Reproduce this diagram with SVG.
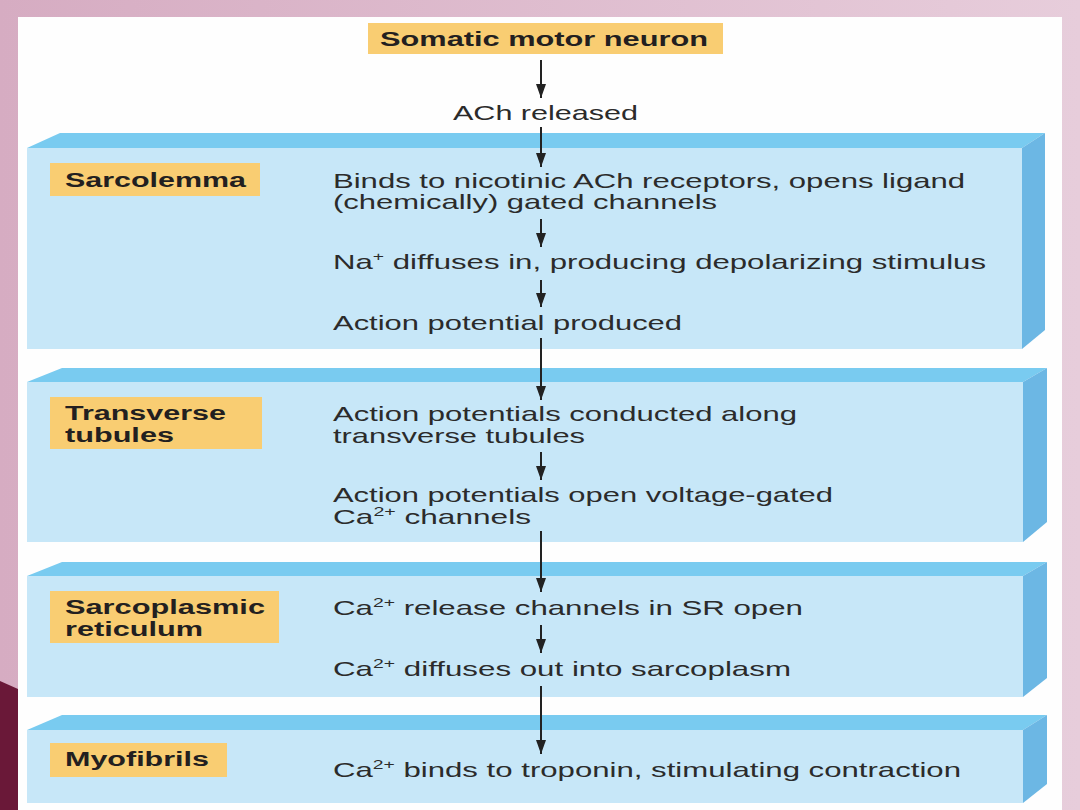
<svg xmlns="http://www.w3.org/2000/svg" width="1080" height="810" viewBox="0 0 1080 810">
<defs>
<linearGradient id="bg" x1="0" y1="0" x2="1" y2="0">
<stop offset="0" stop-color="#d6acc2"/>
<stop offset="1" stop-color="#e7cddb"/>
</linearGradient>
<marker id="ah" viewBox="0 0 14 10" refX="14" refY="5" markerWidth="14" markerHeight="10" markerUnits="userSpaceOnUse" orient="auto">
<path d="M0,0 L14,5 L0,10 Z" fill="#222"/>
</marker>
<style>
.top{fill:#79cbf0}
.front{fill:#c7e7f8}
.side{fill:#6cb7e4}
.lab{fill:#f9cd72}
.bt{font-family:"Liberation Sans",Arial,sans-serif;font-weight:bold;font-size:20px;fill:#231f20}
.t{font-family:"Liberation Sans",Arial,sans-serif;font-size:21px;fill:#2b2b2b}
.sup{font-size:13px}
.c{stroke:#222;stroke-width:2;fill:none;marker-end:url(#ah)}
</style>
</defs>
<rect width="1080" height="810" fill="url(#bg)"/>
<polygon points="0,681 18,689 18,810 0,810" fill="#6a1838"/>
<rect x="18" y="17" width="1044" height="793" fill="#fefefe"/>

<g id="neuron">
<rect class="lab" x="368" y="23" width="355" height="31"/>
<text class="bt" x="380" y="46" textLength="328" lengthAdjust="spacingAndGlyphs">Somatic motor neuron</text>
</g>
<g id="ach">
<text class="t" x="453" y="120" textLength="185" lengthAdjust="spacingAndGlyphs">ACh released</text>
</g>

<g id="sarcolemma">
<polygon class="top" points="27,148 60,133 1045,133 1022,148"/>
<rect class="front" x="27" y="148" width="995" height="201"/>
<polygon class="side" points="1022,148 1045,133 1045,330 1022,349"/>
<rect class="lab" x="50" y="163" width="210" height="33"/>
<text class="bt" x="65" y="187" textLength="181" lengthAdjust="spacingAndGlyphs">Sarcolemma</text>
<text class="t" x="333" y="188" textLength="632" lengthAdjust="spacingAndGlyphs">Binds to nicotinic ACh receptors, opens ligand</text>
<text class="t" x="333" y="209" textLength="384" lengthAdjust="spacingAndGlyphs">(chemically) gated channels</text>
<text class="t" x="333" y="269" textLength="653" lengthAdjust="spacingAndGlyphs">Na<tspan class="sup" dy="-8">+</tspan><tspan dy="8"> diffuses in, producing depolarizing stimulus</tspan></text>
<text class="t" x="333" y="330" textLength="349" lengthAdjust="spacingAndGlyphs">Action potential produced</text>
</g>

<g id="ttubules">
<polygon class="top" points="27,382 62,368 1047,368 1023,382"/>
<rect class="front" x="27" y="382" width="996" height="160"/>
<polygon class="side" points="1023,382 1047,368 1047,522 1023,542"/>
<rect class="lab" x="50" y="397" width="212" height="52"/>
<text class="bt" x="65" y="420" textLength="161" lengthAdjust="spacingAndGlyphs">Transverse</text>
<text class="bt" x="65" y="442" textLength="109" lengthAdjust="spacingAndGlyphs">tubules</text>
<text class="t" x="333" y="421" textLength="464" lengthAdjust="spacingAndGlyphs">Action potentials conducted along</text>
<text class="t" x="333" y="443" textLength="252" lengthAdjust="spacingAndGlyphs">transverse tubules</text>
<text class="t" x="333" y="502" textLength="500" lengthAdjust="spacingAndGlyphs">Action potentials open voltage-gated</text>
<text class="t" x="333" y="524" textLength="198" lengthAdjust="spacingAndGlyphs">Ca<tspan class="sup" dy="-8">2+</tspan><tspan dy="8"> channels</tspan></text>
</g>

<g id="sr">
<polygon class="top" points="27,576 62,562 1047,562 1023,576"/>
<rect class="front" x="27" y="576" width="996" height="121"/>
<polygon class="side" points="1023,576 1047,562 1047,678 1023,697"/>
<rect class="lab" x="50" y="591" width="229" height="52"/>
<text class="bt" x="65" y="614" textLength="200" lengthAdjust="spacingAndGlyphs">Sarcoplasmic</text>
<text class="bt" x="65" y="636" textLength="138" lengthAdjust="spacingAndGlyphs">reticulum</text>
<text class="t" x="333" y="615" textLength="470" lengthAdjust="spacingAndGlyphs">Ca<tspan class="sup" dy="-8">2+</tspan><tspan dy="8"> release channels in SR open</tspan></text>
<text class="t" x="333" y="676" textLength="458" lengthAdjust="spacingAndGlyphs">Ca<tspan class="sup" dy="-8">2+</tspan><tspan dy="8"> diffuses out into sarcoplasm</tspan></text>
</g>

<g id="myofibrils">
<polygon class="top" points="27,730 62,715 1047,715 1023,730"/>
<rect class="front" x="27" y="730" width="996" height="73"/>
<polygon class="side" points="1023,730 1047,715 1047,784 1023,803"/>
<rect class="lab" x="50" y="743" width="177" height="34"/>
<text class="bt" x="65" y="766" textLength="144" lengthAdjust="spacingAndGlyphs">Myofibrils</text>
<text class="t" x="333" y="777" textLength="628" lengthAdjust="spacingAndGlyphs">Ca<tspan class="sup" dy="-8">2+</tspan><tspan dy="8"> binds to troponin, stimulating contraction</tspan></text>
</g>

<g id="connectors">
<line class="c" x1="541" y1="60" x2="541" y2="98"/>
<line class="c" x1="541" y1="127" x2="541" y2="167"/>
<line class="c" x1="541" y1="219" x2="541" y2="247"/>
<line class="c" x1="541" y1="280" x2="541" y2="307"/>
<line class="c" x1="541" y1="338" x2="541" y2="400"/>
<line class="c" x1="541" y1="452" x2="541" y2="480"/>
<line class="c" x1="541" y1="531" x2="541" y2="592"/>
<line class="c" x1="541" y1="625" x2="541" y2="653"/>
<line class="c" x1="541" y1="686" x2="541" y2="754"/>
</g>
</svg>
